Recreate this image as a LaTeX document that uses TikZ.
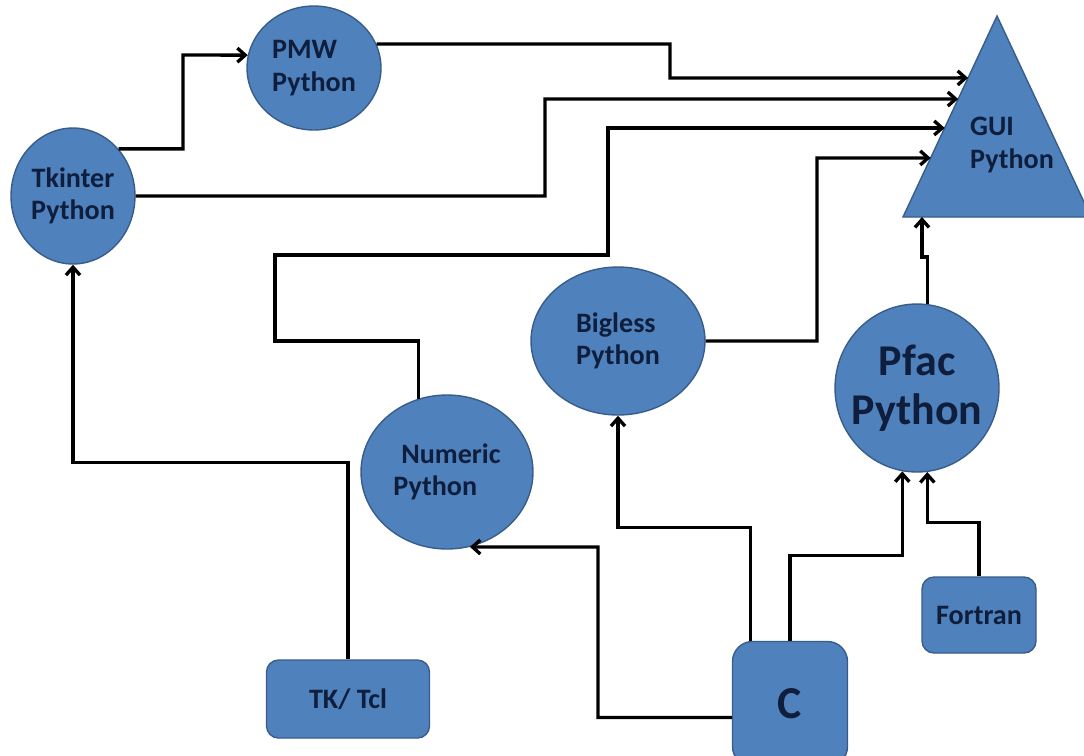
\documentclass[tikz,border=0pt]{standalone}
\usepackage{fontspec}
\setmainfont{Carlito}
\usetikzlibrary{shapes.geometric,calc,arrows.meta}

\definecolor{boxblue}{HTML}{4F81BD}
\definecolor{boxedge}{HTML}{385D8A}
\definecolor{labelnavy}{HTML}{0F1E3C}

\begin{document}
\begin{tikzpicture}[x=0.02cm, y=-0.02cm, >={Straight Barb[length=4.5pt,width=8pt]},
    bubble/.style={ellipse, draw=boxedge, fill=boxblue, line width=0.8pt, inner sep=0pt, text=labelnavy, font=\fontsize{16}{18.5}\selectfont\bfseries, align=center},
    block/.style={rectangle, rounded corners=0.24cm, draw=boxedge, fill=boxblue, line width=0.8pt, inner sep=0pt, text=labelnavy, font=\fontsize{16}{18.5}\selectfont\bfseries, align=center},
    link/.style={->, line width=1.9pt, black}]
        \path[use as bounding box, fill=white] (0,0) rectangle (1084,755);

        % Tkinter
        \node[bubble, minimum width=2.48cm, minimum height=2.72cm] (tkinter) at (73,196) {Tkinter\\Python};

        % PMW
        \node[bubble, minimum width=2.68cm, minimum height=2.48cm, align=left] (pmw) at (314,68) {PMW\\Python};

        % GUI
        \coordinate (gapex) at (997,16);
        \coordinate (gbl) at (903,217);
        \coordinate (gbr) at (1091,217);
        \filldraw[fill=boxblue, draw=boxedge, line width=0.8pt] (gapex) -- (gbr) -- (gbl) -- cycle;
        \node[text=labelnavy, font=\fontsize{16}{18.5}\selectfont\bfseries, align=left] (gui) at (1012,145) {GUI\\Python};
        \coordinate (gin1) at ($(gapex)!0.308!(gbl)$);
        \coordinate (gin2) at ($(gapex)!0.413!(gbl)$);
        \coordinate (gin3) at ($(gapex)!0.557!(gbl)$);
        \coordinate (gin4) at ($(gapex)!0.706!(gbl)$);
        \coordinate (gin5) at ($(gbl)!0.101!(gbr)$);

        % Bigless
        \node[bubble, minimum width=3.48cm, minimum height=2.96cm, align=left] (bigless) at (618,341) {Bigless\\Python};

        % Numeric
        \node[bubble, minimum width=3.44cm, minimum height=3.08cm, align=left] (numeric) at (447,472) {\hspace*{4.5pt}Numeric\\Python};

        % Pfac
        \node[bubble, minimum width=3.28cm, minimum height=3.36cm, inner xsep=-8pt, font=\fontsize{25}{28}\selectfont\bfseries] (pfac) at (917,388) {Pfac\\Python};

        % TK/Tcl
        \node[block, minimum width=3.26cm, minimum height=1.56cm] (tktcl) at (348,699) {TK/ Tcl};

        % C
        \node[block, rounded corners=0.4cm, minimum width=2.3cm, minimum height=2.5cm, font=\fontsize{26}{30}\selectfont\bfseries] (c) at (790,704) {C};

        % Fortran
        \node[block, minimum width=2.28cm, minimum height=1.52cm] (fortran) at (979,615) {Fortran};

        % Arrows
        \draw[link] (tkinter.46) -| (183,55) -- (pmw.169);
        \draw[link] (pmw.21) -| (670,78) -- (gin1);
        \draw[link] (tkinter.east) -| (545,99) -- (gin2);
        \draw[link] (numeric.111) |- (275,341) |- (608,255) |- (gin3);
        \draw[link] (bigless.east) -| (817,158) -- (gin4);
        \draw[link] (pfac.83) -- ++(0,-47) -| (gin5);
        \draw[link] (tktcl.north) -- ++(0,-197) -| (tkinter.south);
        \draw[link] (c.193) -| (598,547) -- (numeric.287);
        \draw[link] (c.122) -- ++(0,-113) -| (bigless.south);
        \draw[link] (c.north) -- ++(0,-85) -| (pfac.260);
        \draw[link] (fortran.north) -- ++(0,-54) -| (pfac.277);
    \end{tikzpicture}
\end{document}
